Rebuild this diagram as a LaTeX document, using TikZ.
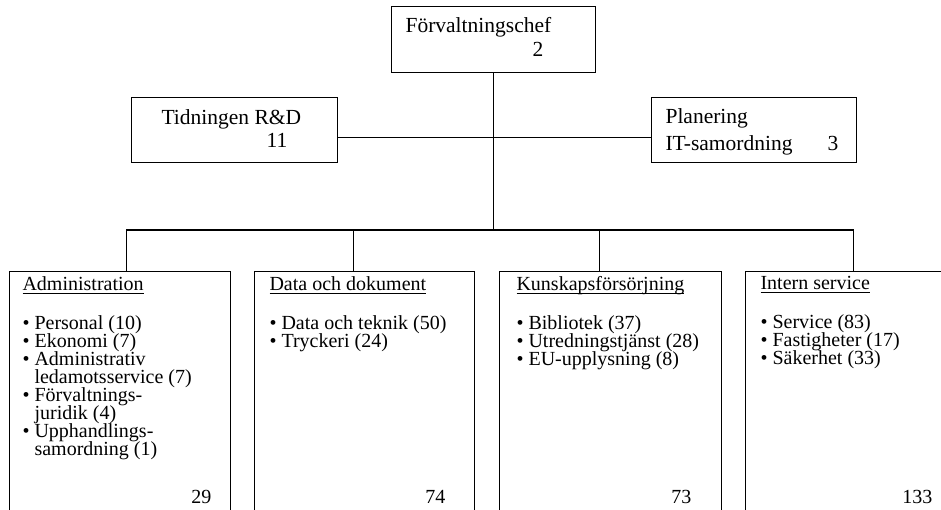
\documentclass[tikz,border=0pt]{standalone}
\usepackage{fontspec}
\setmainfont{Liberation Serif}
\usetikzlibrary{positioning}

\newcommand{\rubrik}[1]{\setbox0\hbox{#1}\rlap{\rule[-3pt]{\wd0}{0.9pt}}\box0}
\newcommand{\pkt}{\textbullet\ }
\newcommand{\indrag}{\hphantom{\textbullet\ }}
\setlength{\lineskiplimit}{-20pt}

\begin{document}
\begin{tikzpicture}[x=1pt,y=-1pt,line width=1.1pt]

    \tikzstyle{block} = [rectangle,draw,anchor=north west,inner sep=0]
    \tikzstyle{head}  = [anchor=base west,inner sep=0,font=\fontsize{21.5}{24}\selectfont]
    \tikzstyle{list}  = [anchor=north west,inner sep=0,align=left,font=\fontsize{20}{18}\selectfont]
    \tikzstyle{sum}   = [anchor=base east,inner sep=0,font=\fontsize{20}{18}\selectfont]

    \useasboundingbox (0,0) rectangle (941,510);
    \clip (0,0) rectangle (941,510);

    % top level
    \node[block,minimum width=204pt,minimum height=66pt] (chef)    at (391,6)  {};
    \node[block,minimum width=206pt,minimum height=65pt] (tidning) at (131,97) {};
    \node[block,minimum width=205pt,minimum height=65pt] (plan)    at (651,97) {};

    \node[head] (chefnamn)  at (405,33)  {Förvaltningschef};
    \node[head] (chefantal) at (532,57)  {2};
    \node[head] (tidnamn)   at (161,125) {Tidningen R\&D};
    \node[head] (tidantal)  at (266,148) {11};
    \node[head] (plannamn)  at (665,124) {Planering};
    \node[head] (itnamn)    at (665,151) {IT-samordning};
    \node[head] (planantal) at (827,151) {3};

    % departments
    \node[block,minimum width=221pt,minimum height=269pt] (admin)   at (9,271)   {};
    \node[block,minimum width=220pt,minimum height=269pt] (data)    at (254,271) {};
    \node[block,minimum width=222pt,minimum height=269pt] (kunskap) at (499,271) {};
    \node[block,minimum width=220pt,minimum height=269pt] (intern)  at (745,271) {};

    \node[list] (admintxt) at (22,276) {\rubrik{Administration}\\[21pt]
        \pkt Personal (10)\\ \pkt Ekonomi (7)\\ \pkt Administrativ\\
        \indrag ledamotsservice (7)\\ \pkt Förvaltnings-\\ \indrag juridik (4)\\
        \pkt Upphandlings-\\ \indrag samordning (1)};
    \node[list] (datatxt) at (269,276) {\rubrik{Data och dokument}\\[21pt]
        \pkt Data och teknik (50)\\ \pkt Tryckeri (24)};
    \node[list] (kunskaptxt) at (516,276) {\rubrik{Kunskapsförsörjning}\\[21pt]
        \pkt Bibliotek (37)\\ \pkt Utredningstjänst (28)\\ \pkt EU-upplysning (8)};
    \node[list] (interntxt) at (760,276) {\rubrik{Intern service}\\[21pt]
        \pkt Service (83)\\ \pkt Fastigheter (17)\\ \pkt Säkerhet (33)};

    \node[sum] (adminantal)   at (212,503) {29};
    \node[sum] (dataantal)    at (446,503) {74};
    \node[sum] (kunskapantal) at (692,503) {73};
    \node[sum] (internantal)  at (933,503) {133};

    % lines
    \coordinate (bus) at (chef.south |- 0,230);
    \draw (chef) -- (bus);
    \draw ([yshift=-7.5pt]tidning.east) -- ([yshift=-7.5pt]plan.west);
    \draw ([xshift=6.5pt]admin.north) |- (bus) -| ([xshift=-2pt]intern.north);
    \draw ([xshift=-11pt]data.north) |- (bus);
    \draw ([xshift=-11pt]kunskap.north) |- (bus);

\end{tikzpicture}
\end{document}
